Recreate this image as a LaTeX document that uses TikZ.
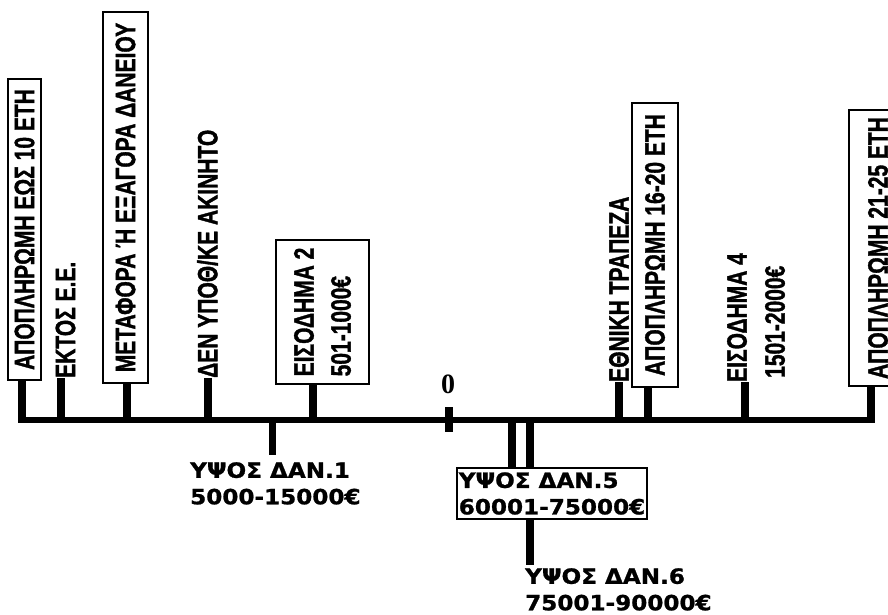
\documentclass[tikz,border=0pt]{standalone}
\usepackage{fontspec}
\newfontfamily\condfont[FakeStretch=0.75,FakeBold=1.2]{Liberation Sans}
\newfontfamily\widefont[FakeStretch=1.1,FakeBold=1]{DejaVu Sans}
\newfontfamily\zerofont{Liberation Serif}
\begin{document}
\begin{tikzpicture}[x=1pt,y=-1pt,
  vfont/.style={font=\condfont\bfseries\fontsize{28}{33}\selectfont},
  vtext/.style={vfont, rotate=90, inner sep=0pt, anchor=west},
  vbox/.style={vfont, rotate=90, draw, line width=1.5pt, inner sep=0pt, align=left},
  hfont/.style={font=\widefont\bfseries\fontsize{21}{26.5}\selectfont},
  htext/.style={hfont, inner sep=0pt, anchor=north west, align=left},
  hbox/.style={hfont, draw, line width=1.5pt, inner sep=2pt, align=left},
  tickline/.style={line width=7.5pt},
  axisline/.style={line width=6.5pt},
]
\useasboundingbox (0,0) rectangle (888,614);
\fill[white] (0,0) rectangle (888,614);

% axis
\coordinate (axL) at (18,420);
\coordinate (axR) at (875,420);
\draw[axisline] (axL) -- (axR);

% tick positions on axis
\coordinate (a1) at (22,420);
\coordinate (a2) at (61,420);
\coordinate (a3) at (127,420);
\coordinate (a4) at (208,420);
\coordinate (a5) at (313,420);
\coordinate (a6) at (619,420);
\coordinate (a7) at (648,420);
\coordinate (a8) at (745,420);
\coordinate (a9) at (871,420);
\coordinate (d1) at (272.5,420);
\coordinate (d5a) at (512,420);
\coordinate (d5b) at (530,420);

% upper labels
\node[vbox, minimum width=301, minimum height=33] (b1) at (24.5,229.5) {ΑΠΟΠΛΗΡΩΜΗ ΕΩΣ 10 ΕΤΗ};
\node[vtext] (t2) at (65.5,378) {ΕΚΤΟΣ Ε.Ε.};
\node[vbox, minimum width=371, minimum height=45] (b3) at (125.5,197.5) {ΜΕΤΑΦΟΡΑ Ή ΕΞΑΓΟΡΑ ΔΑΝΕΙΟΥ};
\node[vtext] (t4) at (207.5,378) {ΔΕΝ ΥΠΟΘ/ΚΕ ΑΚΙΝΗΤΟ};
\node[vbox, minimum width=144, minimum height=93] (b5) at (322.5,312) {ΕΙΣΟΔΗΜΑ 2\\[4pt]501-1000€};
\node[vtext] (t6) at (619,382) {ΕΘΝΙΚΗ ΤΡΑΠΕΖΑ};
\node[vbox, minimum width=284, minimum height=46] (b7) at (655,245) {ΑΠΟΠΛΗΡΩΜΗ 16-20 ΕΤΗ};
\node[vtext] (t8a) at (737,382) {ΕΙΣΟΔΗΜΑ 4};
\node[vtext] (t8b) at (775,378) {1501-2000€};
\node[vbox, minimum width=276, minimum height=58] (b9) at (878,248) {ΑΠΟΠΛΗΡΩΜΗ 21-25 ΕΤΗ};

% upper ticks
\draw[tickline] (a1) -- (a1 |- b1.west);
\draw[tickline] (a2) -- (a2 |- t2.west);
\draw[tickline] (a3) -- (a3 |- b3.west);
\draw[tickline] (a4) -- (a4 |- t4.west);
\draw[tickline] (a5) -- (a5 |- b5.west);
\draw[tickline] (a6) -- (a6 |- t6.west);
\draw[tickline] (a7) -- (a7 |- b7.west);
\draw[tickline] (a8) -- (a8 |- t8a.west);
\draw[tickline] (a9) -- (a9 |- b9.west);

% zero mark
\coordinate (z1) at (449,407);
\coordinate (z2) at (449,432);
\draw[tickline] (z1) -- (z2);
\node[font=\zerofont\bfseries\fontsize{28}{32}\selectfont, inner sep=0pt] (zero) at (448,384) {0};

% lower labels
\node[htext] (l1) at (190,462) {ΥΨΟΣ ΔΑΝ.1\\5000-15000€};
\coordinate (d1e) at (272.5,455);
\draw[tickline] (d1) -- (d1e);

\node[hbox, minimum width=190, minimum height=51] (b6) at (552,493.5) {ΥΨΟΣ ΔΑΝ.5\\60001-75000€};
\draw[tickline] (d5a) -- (d5a |- b6.north);
\draw[tickline] (d5b) -- (d5b |- b6.north);

\node[htext] (l6) at (525,568) {ΥΨΟΣ ΔΑΝ.6\\75001-90000€};
\coordinate (d6e) at (530,565);
\draw[tickline] (b6.south -| d5b) -- (d6e);
\end{tikzpicture}
\end{document}
